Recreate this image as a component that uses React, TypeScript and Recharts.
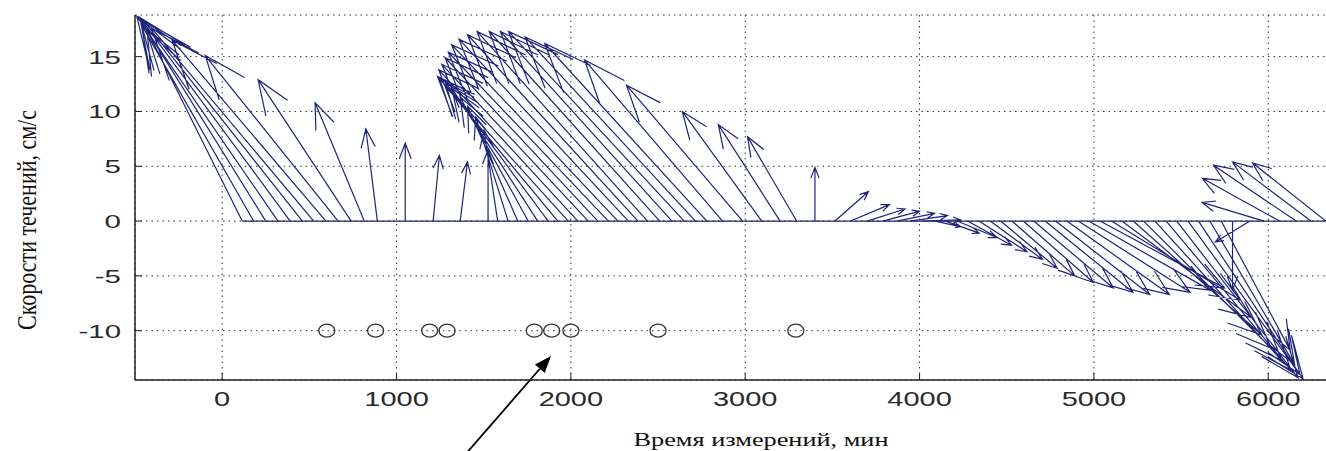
import { ComposedChart, Line, Scatter, XAxis, YAxis, CartesianGrid, ReferenceLine } from 'recharts'

// feather plot: every vector starts on the zero line at its measurement time
const featherTimes = [
  115, 180, 250, 320, 390, 460, 525, 595, 665, 740, 815, 890, 1050, 1210, 1365,
  1525, 1580, 1640, 1695, 1755, 1810, 1870, 1925, 1985, 2040, 2100, 2155, 2215, 2270, 2330, 2385, 2440, 2510, 2580,
  2650, 2715, 2780, 2870, 2985, 3095, 3200, 3295, 3400,
  3515, 3605, 3700, 3790, 3870, 3945, 4020,
  4090, 4150, 4215, 4275, 4340, 4405, 4465, 4530, 4595, 4655, 4720, 4780, 4845, 4910, 4970, 5035,
  5100, 5160, 5225, 5285, 5350, 5415, 5475, 5540, 5600, 5665, 5730, 5795, 5895,
  5975, 6065, 6160, 6245, 6330,
]

// east component, cm/s
const featherU = [
  -9.1, -10.7, -12.0, -13.5, -14.4, -15.2, -15.5, -14.7, -12.7, -8.9, -4.7, -1.1, 0, 0.6, 0.7,
  0, -1.3, -3.1, -4.8, -6.5, -8.2, -9.8, -11.3, -12.5, -13.3, -14.0, -14.6, -15.3, -15.9, -16.2, -16.3, -16.3, -16.3, -16.4,
  -16.8, -16.3, -15.5, -13.2, -11.1, -7.6, -5.9, -4.7, 0,
  3.2, 3.7, 3.6, 3.5, 3.6, 3.6, 3.6,
  2.4, 3.2, 3.8, 4.2, 4.6, 5.0, 5.4, 6.0, 6.7, 7.6, 8.4, 9.0, 9.8, 10.7, 11.6, 11.9,
  12.3, 12.4, 12.3, 12.2, 12.1, 11.9, 11.6, 11.0, 9.7, 8.1, 6.6, 0, -3.3,
  -5.9, -7.4, -7.9, -7.5, -7.0,
]

// north component, cm/s
const featherV = [
  17.4, 17.9, 18.4, 18.7, 18.6, 18.3, 17.6, 16.5, 15.1, 12.9, 10.8, 8.4, 7.1, 6.0, 5.4,
  6.5, 8.3, 9.5, 10.5, 11.3, 12.1, 12.6, 13.0, 13.2, 13.8, 14.3, 14.9, 15.4, 16.1, 16.6, 17.0, 17.3, 17.3, 17.3,
  17.3, 16.8, 16.2, 14.7, 12.4, 10.0, 8.8, 7.7, 4.9,
  2.7, 1.5, 1.1, 0.9, 0.7, 0.5, 0.1,
  -0.5, -1.1, -1.5, -2.2, -2.8, -3.5, -4.3, -5.0, -5.6, -6.1, -6.5, -6.7, -6.7, -6.5, -6.3, -6.1,
  -7.2, -8.8, -10.4, -11.6, -12.7, -13.6, -14.3, -14.4, -14.0, -13.1, -11.8, -6.3, -1.9,
  1.7, 3.9, 5.1, 5.4, 5.3,
]

const markerTimes = [600, 880, 1190, 1290, 1790, 1890, 2000, 2500, 3290]
const markerLevel = -10

const xTicks = [0, 1000, 2000, 3000, 4000, 5000, 6000]
const yTicks = [-10, -5, 0, 5, 10, 15]

const X_DOMAIN: [number, number] = [-500, 6400]
const Y_DOMAIN: [number, number] = [-14.5, 18.8]

const MIN_PER_UNIT = 60 // 1 cm/s of the east component spans one hour on the time axis
const ARROW_COLOR = '#1e2478'

function buildFeather() {
  const pts: { x: number; y: number | null }[] = []
  featherTimes.forEach((t, i) => {
    const u = featherU[i]
    const v = featherV[i]
    const tip = { x: t + u * MIN_PER_UNIT, y: v }
    pts.push({ x: t, y: 0 })
    pts.push(tip)
    pts.push({ x: t + (0.8 * u - 0.08 * v) * MIN_PER_UNIT, y: 0.8 * v + 0.08 * u })
    pts.push(tip)
    pts.push({ x: t + (0.8 * u + 0.08 * v) * MIN_PER_UNIT, y: 0.8 * v - 0.08 * u })
    pts.push({ x: t, y: null })
  })
  return pts
}

const featherData = buildFeather()
const baselineData = [
  { x: featherTimes[0], y: 0 },
  { x: featherTimes[featherTimes.length - 1], y: 0 },
]
const markerData = markerTimes.map((t) => ({ x: t, y: markerLevel }))

const tickFont = '"Liberation Sans", Arial, sans-serif'
const serifFont = '"Liberation Serif", "Times New Roman", serif'

function BottomTick(props: any) {
  const { x, y, payload } = props
  return (
    <g>
      <line x1={x} y1={y} x2={x} y2={y - 7} stroke="#222" />
      <text
        transform={`translate(${x},${y + 26}) scale(1.45,1)`}
        textAnchor="middle"
        fontSize={20}
        fontFamily={tickFont}
        fill="#2a2a2a"
      >
        {payload.value}
      </text>
    </g>
  )
}

function TopTick(props: any) {
  const { x, y } = props
  return <line x1={x} y1={y} x2={x} y2={y + 7} stroke="#222" />
}

function LeftTick(props: any) {
  const { x, y, payload } = props
  return (
    <g>
      <line x1={x} y1={y} x2={x + 7} y2={y} stroke="#222" />
      <text
        transform={`translate(${x - 14},${y + 7}) scale(1.55,1)`}
        textAnchor="end"
        fontSize={19}
        fontFamily={tickFont}
        fill="#2a2a2a"
      >
        {payload.value}
      </text>
    </g>
  )
}

function Ring(props: any) {
  const { cx, cy } = props
  return <ellipse cx={cx} cy={cy} rx={8} ry={6.5} fill="none" stroke="#333" strokeWidth={1.3} />
}

// the pointer drawn over the figure towards the cluster of circles
function Pointer(props: any) {
  const { x1, y1, x2, y2 } = props
  const a = Math.atan2(y2 - y1, x2 - x1)
  const len = 17
  const w = 6.5
  const bx = x2 - len * Math.cos(a)
  const by = y2 - len * Math.sin(a)
  const px = -Math.sin(a) * w
  const py = Math.cos(a) * w
  return (
    <g>
      <line x1={x1} y1={y1} x2={bx} y2={by} stroke="#000" strokeWidth={1.8} />
      <polygon points={`${x2},${y2} ${bx + px},${by + py} ${bx - px},${by - py}`} fill="#000" />
    </g>
  )
}

export default function App() {
  return (
    <div
      style={{
        position: 'absolute',
        left: 0,
        top: 0,
        width: 1326,
        height: 451,
        overflow: 'hidden',
        background: '#fff',
      }}
    >
      <ComposedChart width={1338} height={451} margin={{ top: 15, right: 0, bottom: 0, left: 0 }}>
        <CartesianGrid stroke="#333" strokeDasharray="1.5 4" />
        <XAxis
          type="number"
          dataKey="x"
          domain={X_DOMAIN}
          ticks={xTicks}
          interval={0}
          allowDataOverflow
          height={71}
          axisLine={{ stroke: '#222', strokeWidth: 1.5 }}
          tickLine={false}
          tickSize={0}
          tickMargin={0}
          tick={BottomTick}
        />
        <XAxis
          xAxisId="top"
          orientation="top"
          type="number"
          dataKey="x"
          domain={X_DOMAIN}
          ticks={xTicks}
          interval={0}
          allowDataOverflow
          height={0}
          axisLine={{ stroke: '#222', strokeWidth: 1.5 }}
          tickLine={false}
          tickSize={0}
          tickMargin={0}
          tick={TopTick}
        />
        <YAxis
          type="number"
          dataKey="y"
          domain={Y_DOMAIN}
          ticks={yTicks}
          interval={0}
          allowDataOverflow
          width={135}
          axisLine={{ stroke: '#222', strokeWidth: 1.5 }}
          tickLine={false}
          tickSize={0}
          tickMargin={0}
          tick={LeftTick}
        />
        <Line
          data={baselineData}
          dataKey="y"
          stroke={ARROW_COLOR}
          strokeWidth={1.3}
          dot={false}
          activeDot={false}
          isAnimationActive={false}
        />
        <Line
          data={featherData}
          dataKey="y"
          type="linear"
          stroke={ARROW_COLOR}
          strokeWidth={1.2}
          dot={false}
          activeDot={false}
          connectNulls={false}
          isAnimationActive={false}
        />
        <Scatter data={markerData} dataKey="y" shape={Ring} isAnimationActive={false} />
        <ReferenceLine
          segment={[
            { x: 1337, y: -22.35 },
            { x: 1886, y: -12.3 },
          ]}
          ifOverflow="visible"
          shape={Pointer}
        />
      </ComposedChart>
      <svg
        width={1326}
        height={451}
        style={{ position: 'absolute', left: 0, top: 0, pointerEvents: 'none' }}
      >
        <text
          x={761}
          y={446}
          textAnchor="middle"
          fontSize={19}
          fontFamily={serifFont}
          textLength={255}
          lengthAdjust="spacingAndGlyphs"
          fill="#111"
        >
          Время измерений, мин
        </text>
        <text
          transform="translate(36,220) scale(1.55,1) rotate(-90)"
          textAnchor="middle"
          fontSize={18}
          fontFamily={serifFont}
          textLength={220}
          lengthAdjust="spacingAndGlyphs"
          fill="#111"
        >
          Скорости течений, см/с
        </text>
      </svg>
    </div>
  )
}
